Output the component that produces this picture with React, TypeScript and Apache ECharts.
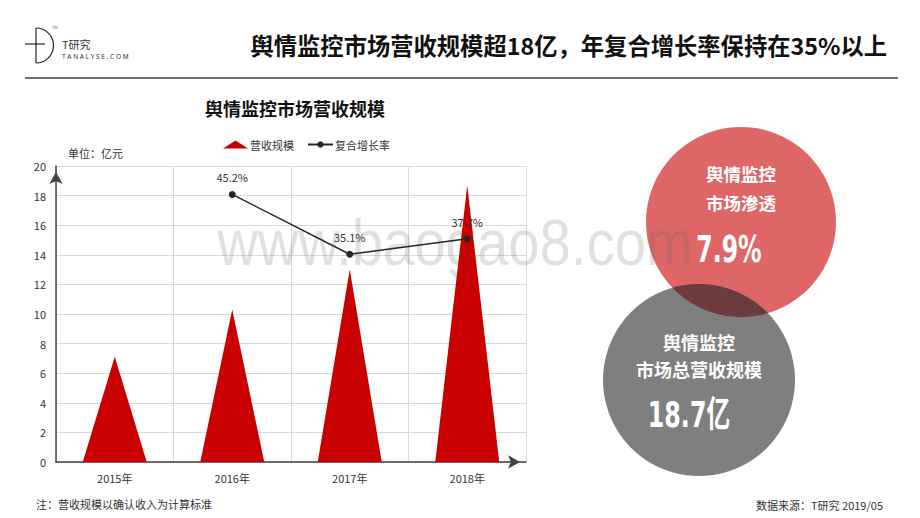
import React, { useEffect, useRef } from "react";
import * as echarts from "echarts";

const FONT = '"Noto Sans CJK SC", "Noto Sans", sans-serif';

const categories = ["2015年", "2016年", "2017年", "2018年"];
const revenue = [7.1, 10.3, 13.0, 18.7];
const growth: (number | string)[] = ["-", 45.2, 35.1, 37.7];
const yMax = 20;
const yInterval = 2;
const growthAxisMax = 50;

const headerTitle = "舆情监控市场营收规模超18亿，年复合增长率保持在35%以上";
const chartTitle = "舆情监控市场营收规模";
const unitText = "单位：亿元";
const noteText = "注：营收规模以确认收入为计算标准";
const sourceText = "数据来源：T研究 2019/05";
const penetrationLines = ["舆情监控", "市场渗透"];
const penetrationValue = "7.9%";
const totalLines = ["舆情监控", "市场总营收规模"];
const totalValue = "18.7亿";

function lensPoints(
  c1: [number, number],
  r1: number,
  c2: [number, number],
  r2: number,
  n: number
): number[][] {
  const dx = c2[0] - c1[0];
  const dy = c2[1] - c1[1];
  const d = Math.sqrt(dx * dx + dy * dy);
  const theta = Math.atan2(dy, dx);
  const alpha = Math.acos((d * d + r1 * r1 - r2 * r2) / (2 * d * r1));
  const phi = theta + Math.PI;
  const beta = Math.acos((d * d + r2 * r2 - r1 * r1) / (2 * d * r2));
  const pts: number[][] = [];
  for (let i = 0; i <= n; i++) {
    const a = theta - alpha + (2 * alpha * i) / n;
    pts.push([c1[0] + r1 * Math.cos(a), c1[1] + r1 * Math.sin(a)]);
  }
  for (let i = 1; i < n; i++) {
    const a = phi - beta + (2 * beta * i) / n;
    pts.push([c2[0] + r2 * Math.cos(a), c2[1] + r2 * Math.sin(a)]);
  }
  return pts;
}

export default function App() {
  const ref = useRef<HTMLDivElement>(null);

  useEffect(() => {
    if (!ref.current) return;
    const chart = echarts.init(ref.current, undefined, { renderer: "svg" });

    const redC: [number, number] = [741, 222];
    const grayC: [number, number] = [699, 380];
    const redR = 95;
    const grayR = 96;

    const txt = (
      x: number,
      y: number,
      text: string,
      size: number,
      color: string,
      align: string,
      weight: string = "normal",
      family: string = FONT,
      extra: any = {}
    ) => ({
      type: "text",
      x,
      y,
      ...extra,
      style: {
        text,
        fill: color,
        font: `${weight} ${size}px ${family}`,
        textAlign: align,
        textVerticalAlign: "middle",
        align,
        verticalAlign: "middle",
      },
    });

    const option: any = {
      animation: false,
      textStyle: { fontFamily: FONT },
      legend: {
        left: 218,
        top: 134,
        itemWidth: 25,
        itemHeight: 8,
        itemGap: 13,
        textStyle: { fontSize: 11, color: "#333", padding: [0, 0, 0, -3] },
        data: [
          { name: "营收规模", icon: "triangle" },
          { name: "复合增长率" },
        ],
      },
      grid: { left: 56, right: 394, top: 166, bottom: 56 },
      xAxis: {
        type: "category",
        data: categories,
        boundaryGap: true,
        axisLine: {
          lineStyle: { color: "#404040", width: 1.5 },
          symbol: ["none", "arrow"],
          symbolSize: [10, 12],
          symbolOffset: [0, -6],
        },
        axisTick: { show: false },
        axisLabel: { fontSize: 11, color: "#333", margin: 10 },
        splitLine: { show: true, lineStyle: { color: "#d9d9d9", width: 1 } },
      },
      yAxis: [
        {
          type: "value",
          min: 0,
          max: yMax,
          interval: yInterval,
          axisLine: {
            show: true,
            lineStyle: { color: "#404040", width: 1.5 },
            symbol: ["none", "arrow"],
            symbolSize: [10, 12],
            symbolOffset: [0, -6],
          },
          axisTick: { show: false },
          axisLabel: { fontSize: 11, color: "#333", margin: 10 },
          splitLine: { show: true, lineStyle: { color: "#d9d9d9", width: 1 } },
        },
        {
          type: "value",
          min: 0,
          max: growthAxisMax,
          show: false,
          splitLine: { show: false },
        },
      ],
      series: [
        {
          name: "营收规模",
          type: "pictorialBar",
          data: revenue,
          symbol: "triangle",
          symbolSize: [64, "100%"],
          itemStyle: { color: "#C90000" },
          z: 3,
        },
        {
          name: "复合增长率",
          type: "line",
          yAxisIndex: 1,
          data: growth,
          symbol: "circle",
          symbolSize: 7,
          lineStyle: { color: "#262626", width: 1.5 },
          itemStyle: { color: "#262626" },
          label: {
            show: true,
            position: "top",
            distance: 8,
            formatter: "{c}%",
            fontSize: 11,
            color: "#333",
          },
          z: 4,
        },
      ],
      graphic: [
        // logo
        {
          type: "line",
          shape: { x1: 36, y1: 28, x2: 36, y2: 63 },
          style: { stroke: "#222", lineWidth: 1.2 },
        },
        {
          type: "arc",
          shape: {
            cx: 36,
            cy: 45.5,
            r: 17.5,
            startAngle: -Math.PI / 2,
            endAngle: Math.PI / 2,
            clockwise: true,
          },
          style: { stroke: "#222", lineWidth: 1.2, fill: null },
        },
        {
          type: "line",
          shape: { x1: 25, y1: 44, x2: 45, y2: 44 },
          style: { stroke: "#222", lineWidth: 1.2 },
        },
        txt(52, 27, "TM", 4, "#555", "left"),
        txt(62, 44, "T研究", 11, "#333", "left"),
        txt(62, 56.5, "T A N A L Y S E . C O M", 6.5, "#333", "left", "normal", '"Noto Sans", sans-serif'),
        // separator
        {
          type: "line",
          shape: { x1: 25, y1: 78, x2: 898, y2: 78 },
          style: { stroke: "#404040", lineWidth: 1.5 },
        },
        txt(887, 45, headerTitle, 23.3, "#111", "right", "bold"),
        txt(295, 108, chartTitle, 18, "#111", "center", "bold"),
        txt(68, 153, unitText, 11, "#333", "left"),
        // circles
        {
          type: "circle",
          shape: { cx: redC[0], cy: redC[1], r: redR },
          style: { fill: "#DF6666" },
          z: 0,
        },
        {
          type: "circle",
          shape: { cx: grayC[0], cy: grayC[1], r: grayR },
          style: { fill: "#7F7F7F" },
          z: 0,
        },
        {
          type: "polygon",
          shape: { points: lensPoints(redC, redR, grayC, grayR, 40) },
          style: { fill: "#6C3B3B" },
          z: 0,
        },
        txt(741, 173, penetrationLines[0], 17.5, "#fff", "center", "bold"),
        txt(741, 202, penetrationLines[1], 17.5, "#fff", "center", "bold"),
        txt(729, 249, penetrationValue, 38, "#fff", "center", "bold", '"DejaVu Sans", sans-serif', { scaleX: 0.62 }),
        txt(699, 342, totalLines[0], 18, "#fff", "center", "bold"),
        txt(699, 369, totalLines[1], 18, "#fff", "center", "bold"),
        txt(689, 415, totalValue, 36, "#fff", "center", "bold", '"DejaVu Sans", "Noto Sans CJK SC", sans-serif', { scaleX: 0.66 }),
        // notes
        txt(36, 504, noteText, 11, "#333", "left"),
        txt(883, 505, sourceText, 11, "#333", "right"),
        // watermark
        {
          type: "text",
          x: 455,
          y: 243,
          scaleX: 0.88,
          z: 1,
          style: {
            text: "www.baogao8.com",
            fill: "rgba(100,100,100,0.2)",
            font: 'normal 64px "Liberation Sans", Arial, sans-serif',
            textAlign: "center",
            textVerticalAlign: "middle",
            align: "center",
            verticalAlign: "middle",
          },
        },
      ],
    };

    chart.setOption(option);
    return () => chart.dispose();
  }, []);

  return (
    <div
      ref={ref}
      style={{
        position: "fixed",
        left: 0,
        top: 0,
        width: 920,
        height: 518,
        background: "#fff",
      }}
    />
  );
}
